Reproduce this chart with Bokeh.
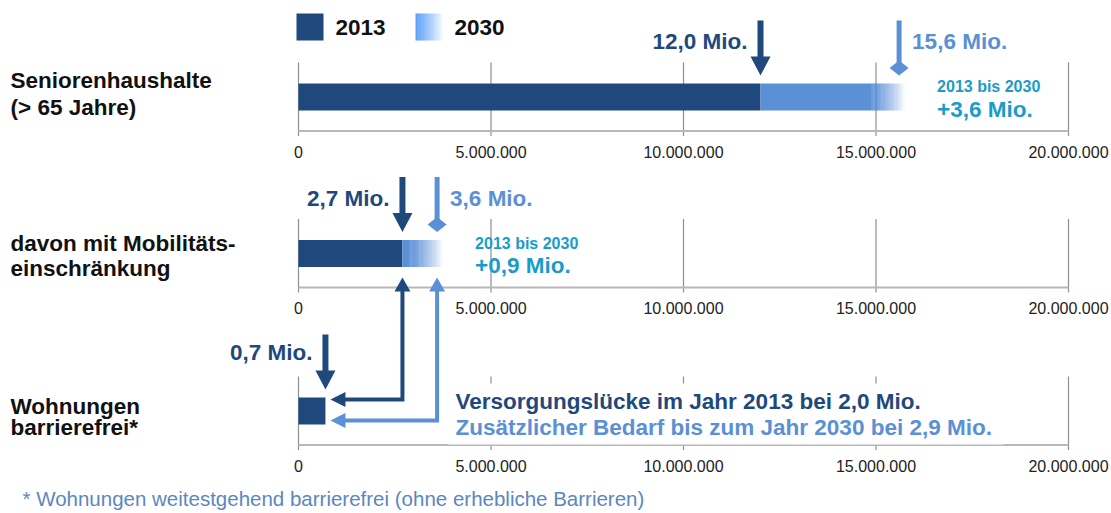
import numpy as np
from bokeh.plotting import figure
from bokeh.models import Range1d
from bokeh.core.properties import value
from bokeh.embed import file_html
from bokeh.resources import INLINE

# ---------------- data ----------------
label_lines = [["Seniorenhaushalte", "(> 65 Jahre)"],
               ["davon mit Mobilitäts-", "einschränkung"],
               ["Wohnungen", "barrierefrei*"]]
values_2013 = [12_000_000, 2_700_000, 700_000]
values_2030 = [15_600_000, 3_600_000]
labels_2013 = ["12,0 Mio.", "2,7 Mio.", "0,7 Mio."]
labels_2030 = ["15,6 Mio.", "3,6 Mio."]
growth_period = "2013 bis 2030"
growth_labels = ["+3,6 Mio.", "+0,9 Mio."]
tick_values = [0, 5_000_000, 10_000_000, 15_000_000, 20_000_000]
tick_labels = ["0", "5.000.000", "10.000.000", "15.000.000", "20.000.000"]
gap_texts = ["Versorgungslücke im Jahr 2013 bei 2,0 Mio.",
             "Zusätzlicher Bedarf bis zum Jahr 2030 bei 2,9 Mio."]
legend_labels = ["2013", "2030"]
footnote = "* Wohnungen weitestgehend barrierefrei (ohne erhebliche Barrieren)"

# ---------------- layout / style ----------------
W, H = 1110, 512
PX0 = 298.0                 # screen pixel of value 0
PX_PER = 770.0 / 20e6       # pixels per unit
def X(px):                  # screen pixel -> data x (layout helper)
    return (px - PX0) / PX_PER
def D(dpx):                 # pixel width -> data width
    return dpx / PX_PER

DARK = "#1f497d"
LIGHT = "#5b8fd6"
TEAL = "#1a9bc9"
GRID = "#8f8f8f"
AXIS = "#b8b8b8"
FONT = value("Liberation Sans")
BIG = "22.5px"

bar_y = [96.5, 253.0, 410.5]
label_offsets = [(-16.5, 10.5), (-10.0, 14.5), (-4.5, 16.5)]
BH = 13.5

p = figure(width=W, height=H, x_range=Range1d(X(0), X(W)),
           y_range=Range1d(H, 0), output_backend="svg",
           toolbar_location=None, x_axis_location=None, y_axis_location=None,
           min_border=0, outline_line_color=None)
p.grid.visible = False
p.background_fill_color = "white"
p.border_fill_color = "white"

def txt(x, y, t, size=BIG, color="#111111", bold=True, align="left"):
    p.text(x=[x], y=[y], text=[t], text_font=FONT, text_font_size=size,
           text_font_style="bold" if bold else "normal", text_color=color,
           text_align=align, text_baseline="middle")

# ---------------- axes & grid per panel ----------------
for by in bar_y:
    p.segment(x0=tick_values, x1=tick_values, y0=[by - 34.5] * 5, y1=[by + 39] * 5,
              line_color=GRID, line_width=1.2)
    p.segment(x0=[tick_values[0]], x1=[tick_values[-1]], y0=[by + 34], y1=[by + 34],
              line_color=AXIS, line_width=2)
    p.text(x=tick_values, y=[by + 54.5] * 5, text=tick_labels, text_font=FONT,
           text_font_size="16px", text_color="#222222", text_align="center",
           text_baseline="middle")

# white box behind gap text (hides grid lines)
p.quad(left=[X(448)], right=[X(1003)], top=[383], bottom=[444],
       fill_color="white", line_color=None)

# ---------------- bars ----------------
for i, by in enumerate(bar_y):
    p.quad(left=[0], right=[values_2013[i]], top=[by - BH], bottom=[by + BH],
           fill_color=DARK, line_color=None)
FADE_IN, FADE_OUT, N = D(28), D(6), 30
for i, v30 in enumerate(values_2030):
    by = bar_y[i]
    fs = v30 - FADE_IN
    p.quad(left=[values_2013[i]], right=[fs], top=[by - BH], bottom=[by + BH],
           fill_color=LIGHT, line_color=None)
    edges = np.linspace(fs, v30 + FADE_OUT, N + 1)
    alphas = 1 - (np.arange(N) + 0.5) / N
    p.quad(left=edges[:-1], right=edges[1:] + D(0.3), top=[by - BH] * N,
           bottom=[by + BH] * N, fill_color=LIGHT, fill_alpha=alphas, line_color=None)

# ---------------- value arrows ----------------
def down_arrow(x, by, color, diamond=False):
    top = by - BH
    tip = top - 8
    start = top - 63
    if diamond:
        cy = tip - 7.5
        p.segment(x0=[x], x1=[x], y0=[start], y1=[cy], line_color=color, line_width=5)
        p.patch(x=[x - D(9.5), x, x + D(9.5), x], y=[cy, cy - 7.5, cy, cy + 7.5],
                fill_color=color, line_color=None)
    else:
        base = tip - 19
        p.segment(x0=[x], x1=[x], y0=[start], y1=[base + 1], line_color=color, line_width=6)
        p.patch(x=[x - D(10), x + D(10), x], y=[base, base, tip],
                fill_color=color, line_color=None)
    return top - 42

for i, v in enumerate(values_2013):
    ly = down_arrow(v, bar_y[i], DARK)
    txt(v - D(13), ly - (3 if i == 2 else 0), labels_2013[i], color=DARK, align="right")
for i, v in enumerate(values_2030):
    ly = down_arrow(v, bar_y[i], LIGHT, diamond=True)
    txt(v + D(13), ly, labels_2030[i], color=LIGHT)
    txt(v + D(38), bar_y[i] - 10.5, growth_period, size="16px", color=TEAL)
    txt(v + D(38), bar_y[i] + 12, growth_labels[i], color=TEAL)

# ---------------- bent arrows from panel 2 to panel 3 ----------------
up_tip = bar_y[1] + BH + 10.5
left_tip = values_2013[2] + D(5)
for xv, hy, color in [(values_2013[1], bar_y[2] - 11.5, DARK),
                      (values_2030[1], bar_y[2] + 9.5, LIGHT)]:
    p.patch(x=[xv - D(8), xv + D(8), xv], y=[up_tip + 14, up_tip + 14, up_tip],
            fill_color=color, line_color=None)
    p.line(x=[xv, xv, left_tip + D(14)], y=[up_tip + 12, hy, hy],
           line_color=color, line_width=4, line_join="miter")
    p.patch(x=[left_tip, left_tip + D(15), left_tip + D(15)], y=[hy, hy - 7.5, hy + 7.5],
            fill_color=color, line_color=None)

txt(X(455), bar_y[2] - 9.5, gap_texts[0], color=DARK)
txt(X(455), bar_y[2] + 16.5, gap_texts[1], color=LIGHT)

# ---------------- left labels ----------------
for i, lines in enumerate(label_lines):
    o1, o2 = label_offsets[i]
    txt(X(10), bar_y[i] + o1, lines[0])
    txt(X(10), bar_y[i] + o2, lines[1])

# ---------------- legend ----------------
p.quad(left=[X(296)], right=[X(323)], top=[13], bottom=[40], fill_color=DARK, line_color=None)
NL = 20
le = np.linspace(X(415), X(443), NL + 1)
p.quad(left=le[:-1], right=le[1:] + D(0.3), top=[13] * NL, bottom=[40] * NL,
       fill_color="#5da0fb", fill_alpha=1 - (np.arange(NL) + 0.5) / NL, line_color=None)
txt(X(335), 27, legend_labels[0])
txt(X(454), 27, legend_labels[1])

# ---------------- footnote ----------------
txt(X(22), 498, footnote, size="20.5px", color="#5b87c0", bold=False)

open("out.html", "w").write(file_html(p, INLINE))
